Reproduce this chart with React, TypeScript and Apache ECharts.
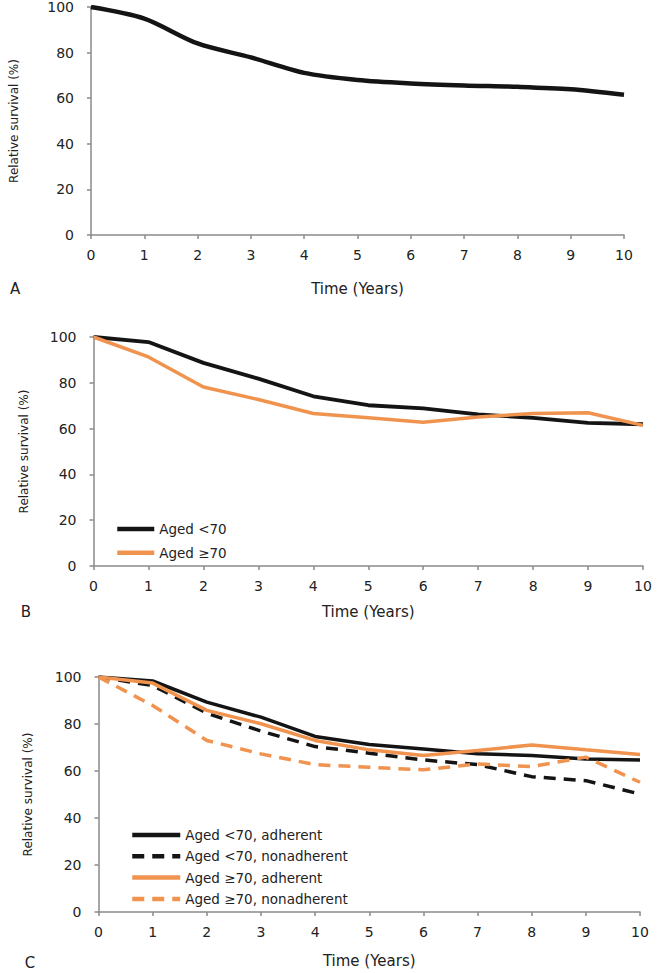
import React, { useEffect, useRef } from "react";
import * as echarts from "echarts";

const years = [0, 1, 2, 3, 4, 5, 6, 7, 8, 9, 10];
const yTicks = [0, 20, 40, 60, 80, 100];

// Panel A
const survivalAll = [100, 94.9, 84, 77.9, 71.1, 68, 66.5, 65.6, 65, 63.9, 61.5];
// Panel B
const agedUnder70 = [100, 97.8, 88.7, 81.8, 74.1, 70.2, 68.8, 66.2, 64.7, 62.5, 61.9];
const aged70Plus = [100, 91.3, 78.2, 72.7, 66.6, 64.7, 62.8, 65.1, 66.6, 66.9, 61.4];
// Panel C
const under70Adherent = [100, 98.3, 89.3, 82.9, 74.7, 71.3, 69.4, 67.3, 66.6, 65.1, 64.7];
const under70Nonadherent = [100, 96.4, 84.6, 77, 70.4, 67.6, 64.7, 62.7, 57.6, 55.9, 50.2];
const over70Adherent = [100, 97.4, 85.8, 80.1, 73, 69, 66.6, 68.7, 71.1, 69, 67];
const over70Nonadherent = [100, 87.9, 73, 67.3, 62.7, 61.6, 60.5, 63, 61.9, 65.9, 55.2];

const panelLabels = ["A", "B", "C"];
const xTitle = "Time (Years)";
const yTitle = "Relative survival (%)";

const BLACK = "#141414";
const ORANGE = "#F0934F";
const AXIS = "#8a8a8a";
const TEXT = "#222";
const FONT = "DejaVu Sans";

const pairs = (vals: number[]) => years.map((y, i) => [y, vals[i]]);

export default function App() {
  const ref = useRef<HTMLDivElement>(null);
  useEffect(() => {
    if (!ref.current) return;
    const chart = echarts.init(ref.current, undefined, { renderer: "svg" });

    const grids = [
      { left: 90, right: 34, top: 7, height: 228 },
      { left: 93.5, right: 15, top: 337, height: 229 },
      { left: 98.5, right: 18, top: 677, height: 235 },
    ];
    const xNameGaps = [46, 38, 41];
    const yNameGaps = [71, 64, 65];

    const xAxes = grids.map((_, i) => ({
      type: "value",
      gridIndex: i,
      min: 0,
      max: 10,
      interval: 1,
      name: xTitle,
      nameLocation: "middle",
      nameGap: xNameGaps[i],
      nameTextStyle: { fontFamily: FONT, fontSize: 15, color: TEXT },
      axisLine: { show: true, lineStyle: { color: AXIS, width: 1.5 } },
      axisTick: { show: true, length: 4, lineStyle: { color: AXIS, width: 1.5 } },
      axisLabel: { margin: 13, fontFamily: FONT, fontSize: 14, color: TEXT },
      splitLine: { show: false },
    }));
    const yAxes = grids.map((_, i) => ({
      type: "value",
      gridIndex: i,
      min: yTicks[0],
      max: yTicks[yTicks.length - 1],
      interval: 20,
      name: yTitle,
      nameLocation: "middle",
      nameRotate: 90,
      nameGap: yNameGaps[i],
      nameTextStyle: { fontFamily: FONT, fontSize: 12, color: TEXT },
      axisLine: { show: true, lineStyle: { color: AXIS, width: 1.5 } },
      axisTick: { show: true, length: 4, lineStyle: { color: AXIS, width: 1.5 } },
      axisLabel: { margin: 17, fontFamily: FONT, fontSize: 14, color: TEXT },
      splitLine: { show: false },
    }));

    const line = (
      name: string,
      vals: number[],
      idx: number,
      color: string,
      width: number,
      dashed = false,
      smooth: number | boolean = false
    ) => ({
      name,
      type: "line",
      xAxisIndex: idx,
      yAxisIndex: idx,
      data: pairs(vals),
      symbol: "none",
      smooth,
      lineStyle: { color, width, type: dashed ? [12, 8] : "solid", cap: "butt" },
      itemStyle: { color },
    });

    const option: any = {
      animation: false,
      backgroundColor: "#fff",
      grid: grids,
      xAxis: xAxes,
      yAxis: yAxes,
      legend: [
        {
          orient: "vertical",
          left: 110,
          top: 517,
          itemWidth: 37,
          itemHeight: 14,
          itemGap: 9.7,
          itemStyle: { opacity: 0 },
          lineStyle: { width: 4.5 },
          textStyle: { fontFamily: FONT, fontSize: 13.5, color: TEXT },
          data: ["Aged <70", "Aged ≥70"],
        },
        {
          orient: "vertical",
          left: 125,
          top: 823,
          itemWidth: 48,
          itemHeight: 14,
          itemGap: 7.3,
          itemStyle: { opacity: 0 },
          lineStyle: { width: 4.5 },
          textStyle: { fontFamily: FONT, fontSize: 13.5, color: TEXT },
          data: [
            "Aged <70, adherent",
            "Aged <70, nonadherent",
            "Aged ≥70, adherent",
            "Aged ≥70, nonadherent",
          ],
        },
      ],
      graphic: [
        { type: "text", x: 15, y: 289, style: { text: panelLabels[0], fontFamily: FONT, fontSize: 15, fill: TEXT, align: "center", verticalAlign: "middle" } },
        { type: "text", x: 26, y: 612, style: { text: panelLabels[1], fontFamily: FONT, fontSize: 15, fill: TEXT, align: "center", verticalAlign: "middle" } },
        { type: "text", x: 30, y: 963, style: { text: panelLabels[2], fontFamily: FONT, fontSize: 15, fill: TEXT, align: "center", verticalAlign: "middle" } },
      ],
      series: [
        line("Relative survival", survivalAll, 0, BLACK, 4.5, false, 0.3),
        line("Aged <70", agedUnder70, 1, BLACK, 3.8),
        line("Aged ≥70", aged70Plus, 1, ORANGE, 3.5),
        line("Aged <70, adherent", under70Adherent, 2, BLACK, 3.5),
        line("Aged <70, nonadherent", under70Nonadherent, 2, BLACK, 3.5, true),
        line("Aged ≥70, adherent", over70Adherent, 2, ORANGE, 3.5),
        line("Aged ≥70, nonadherent", over70Nonadherent, 2, ORANGE, 3.5, true),
      ],
    };
    chart.setOption(option);
    return () => chart.dispose();
  }, []);

  return (
    <div
      ref={ref}
      style={{ position: "absolute", left: 0, top: 0, width: 658, height: 973, background: "#fff" }}
    />
  );
}
